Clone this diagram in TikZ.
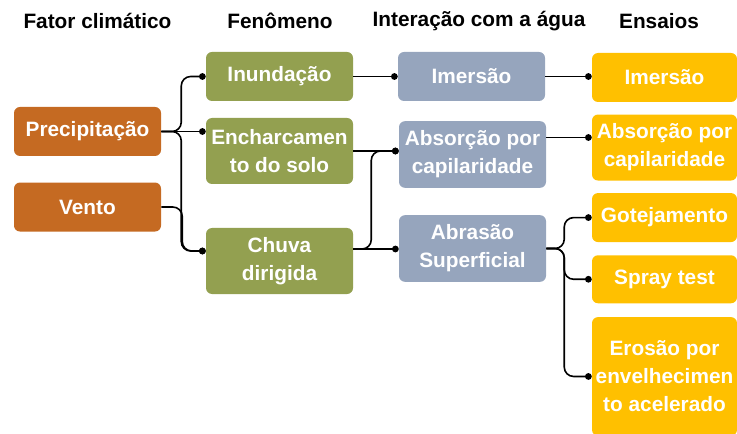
\documentclass[tikz,border=0pt]{standalone}
\usepackage{fontspec}
\setmainfont{Liberation Sans}
\usetikzlibrary{positioning,calc,arrows.meta}
\definecolor{fatorcor}{RGB}{197,106,34}
\definecolor{fenocor}{RGB}{147,160,80}
\definecolor{intercor}{RGB}{150,165,189}
\definecolor{ensaiocor}{RGB}{255,192,0}
\tikzset{
    box/.style={rectangle, rounded corners=4.5pt, fill=#1, text=white, align=center, inner sep=2pt,
      minimum width=110.25pt, minimum height=36.75pt,
      font=\fontsize{15.6}{21}\selectfont\bfseries},
    title/.style={font=\fontsize{15.6}{21}\selectfont\bfseries},
    conn/.style={line width=1.2pt, rounded corners=7pt, -{Circle[length=5pt]}},
}

\begin{document}
\begin{tikzpicture}[x=0.75pt,y=-0.75pt]
  \useasboundingbox (0,0) rectangle (737,434);

  % TITULOS
  \node [title] (fatortitle)   at (97.5,21) {Fator climático};
  \node [title] (fenotitle)    at (280,21)  {Fenômeno};
  \node [title] (intertitle)   at (479,21)  {Interação com a água};
  \node [title] (ensaiotitle)  at (659,21)  {Ensaios};

  % FATOR CLIMATICO
  \node [box=fatorcor] (precip) at (87.5,131.5) {Precipitação};
  \node [box=fatorcor, below=19.5pt of precip] (vento) {Vento};

  % FENOMENO
  \node [box=fenocor] (inund) at (279.5,76.5) {Inundação};
  \node [box=fenocor, minimum height=49.5pt] (encharc) at (279.5,151) {Encharcamen\\to do solo};
  \node [box=fenocor, minimum height=49.5pt] (chuva) at (279.5,261) {Chuva\\dirigida};

  % INTERACAO COM A AGUA
  \node [box=intercor] (imersao) at (471.5,76.5) {Imersão};
  \node [box=intercor, minimum height=50pt] (absorc) at (472.5,154.5) {Absorção por\\capilaridade};
  \node [box=intercor, minimum height=50pt] (abrasao) at (472.5,248.5) {Abrasão\\Superficial};

  % ENSAIOS
  \node [box=ensaiocor, minimum width=108.75pt] (imersaoE) at (664.5,77.5) {Imersão};
  \node [box=ensaiocor, minimum width=108.75pt, minimum height=49.5pt, below=9pt of imersaoE] (absorcE) {Absorção por\\capilaridade};
  \node [box=ensaiocor, minimum width=108.75pt, below=9pt of absorcE] (gotej) {Gotejamento};
  \node [box=ensaiocor, minimum width=108.75pt, minimum height=36pt, below=9.5pt of gotej] (spray) {Spray test};
  \node [box=ensaiocor, minimum width=108.75pt, minimum height=89pt, below=10pt of spray] (erosao) {Erosão por\\envelhecimen\\to acelerado};

  % LIGACOES
  \coordinate (chuvain)  at ($(chuva.west)+(0,-10)$);
  \coordinate (chuvaout) at ($(chuva.east)+(0,-12)$);
  \coordinate (absout)   at ($(absorc.east)+(0,-17)$);

  \draw[conn] (precip.east) -- ++(20,0) |- (inund.west);
  \draw[conn] (precip.east) -- (precip.east -| encharc.west);
  \draw[conn] (precip.east) -- ++(20,0) |- (chuvain);
  \draw[conn] (vento.east) -- ++(21,0) |- (chuvain);

  \draw[conn] (inund.east) -- (inund.east -| imersao.west);
  \draw[conn] (encharc.east) -- (encharc.east -| absorc.west);
  \draw[conn] (chuvaout) -- ++(18,0) |- (encharc.east -| absorc.west);
  \draw[conn] (chuvaout) -- (chuvaout -| abrasao.west);

  \draw[conn] (imersao.east) -- (imersao.east -| imersaoE.west);
  \draw[conn] (absout) -- (absout -| absorcE.west);
  \draw[conn] (abrasao.east) -- ++(18,0) |- (gotej.west);
  \draw[conn] (abrasao.east) -- ++(18,0) |- (spray.west);
  \draw[conn] (abrasao.east) -- ++(18,0) |- (erosao.west);
\end{tikzpicture}
\end{document}
